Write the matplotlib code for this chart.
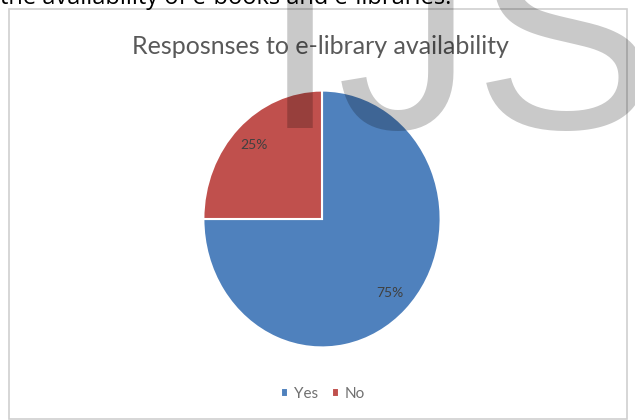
import matplotlib.pyplot as plt
from matplotlib.patches import Rectangle

# data
labels = ['Yes', 'No']
shares = [75, 25]
colors = ['#4F81BD', '#C0504D']
title = 'Resposnses to e-library availability'
caption = 'the availability of e-books and e-libraries.'

W, H = 635, 420
fig = plt.figure(figsize=(W / 100, H / 100), dpi=100)

# chart frame
fig.patches.append(Rectangle((9 / W, 1 / H), 618 / W, 410 / H, transform=fig.transFigure,
                             fill=False, edgecolor='#d0d0d0', linewidth=1.2))

# cut-off caption line from the page above the chart
fig.text(0.0, 1 - 4 / H, caption, fontsize=17, family='Open Sans', color='black',
         ha='left', va='baseline')

fig.text(320 / W, 1 - 54 / H, title, fontsize=18, family='Lato', color='#595959',
         ha='center', va='baseline')

# pie (slightly stretched vertically like the scan)
cx, cy, rx, ry = 322, 219, 121, 131
ax = fig.add_axes([(cx - rx) / W, 1 - (cy + ry) / H, 2 * rx / W, 2 * ry / H])
wedges, texts, autotexts = ax.pie(shares, colors=colors, startangle=90, counterclock=False,
                                  autopct='%d%%', pctdistance=0.81,
                                  wedgeprops=dict(edgecolor='white', linewidth=1.5),
                                  textprops=dict(color='#404040', fontsize=10, family='Lato'))
ax.set_xlim(-1.02, 1.02)
ax.set_ylim(-1.02, 1.02)
ax.set_aspect('auto')
ax.axis('off')

fig.legend(wedges, labels, loc='center', bbox_to_anchor=(323 / W, 1 - 394 / H), ncol=2,
           frameon=False, handlelength=0.45, handleheight=0.45, handletextpad=0.4,
           columnspacing=0.9, prop=dict(family='Lato', size=11), labelcolor='#707070')

# watermark from the scanned page
fig.text(262 / W, 1 - 128 / H, 'IJS', fontsize=197, family='Liberation Sans', color='black',
         alpha=0.21, ha='left', va='baseline', zorder=10)

fig.savefig('out.png', dpi=100)
